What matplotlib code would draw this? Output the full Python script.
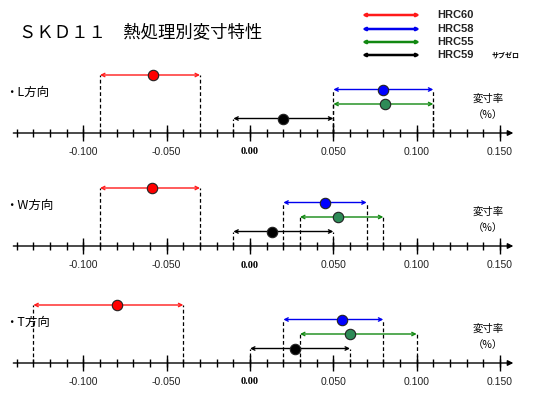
import numpy as np
import matplotlib
matplotlib.use("Agg")
import matplotlib.pyplot as plt

plt.rcParams['font.family'] = ['Noto Sans CJK JP', 'DejaVu Sans']

# data: (low, mean, high) per heat treatment, per direction
directions = ['・L方向', '・W方向', '・T方向']
series = ['HRC60', 'HRC58', 'HRC55', 'HRC59']
colors = ['#ff1a1a', '#0000ee', '#118811', '#000000']
dot_colors = ['#ff0000', '#0000ff', '#2e8b57', '#000000']
low = {
    'L': [-0.09, 0.05, 0.05, -0.01],
    'W': [-0.09, 0.02, 0.03, -0.01],
    'T': [-0.13, 0.02, 0.03, 0.00],
}
mean = {
    'L': [-0.058, 0.080, 0.081, 0.020],
    'W': [-0.059, 0.045, 0.053, 0.013],
    'T': [-0.080, 0.055, 0.060, 0.027],
}
high = {
    'L': [-0.03, 0.11, 0.11, 0.05],
    'W': [-0.03, 0.07, 0.08, 0.05],
    'T': [-0.04, 0.08, 0.10, 0.06],
}
tick_values = [-0.100, -0.050, 0.00, 0.050, 0.100, 0.150]
tick_labels = ['-0.100', '-0.050', '0.00', '0.050', '0.100', '0.150']
levels = [4, 3, 2, 1]   # stacking row for each series

W, H = 540, 400
fig = plt.figure(figsize=(5.4, 4.0), dpi=100)

unit = 14.5          # pixels per level
baselines = [133, 246, 363]
xmin, xmax = -0.15, (W - 250) / 1666.7 - 0.0

for key, label, y0 in zip(['L', 'W', 'T'], directions, baselines):
    ax = fig.add_axes([0, (H - (y0 + 30)) / H, 1, 110 / H])
    ax.set_xlim(xmin, xmax)
    ax.set_ylim(-30 / unit, 80 / unit)
    ax.axis('off')

    # axis line with arrow
    ax.annotate('', xy=(0.158, 0), xytext=(-0.142, 0),
                arrowprops=dict(arrowstyle='-|>', color='black', lw=1.0,
                                mutation_scale=8, shrinkA=0, shrinkB=0))
    minor = np.round(np.arange(-0.14, 0.151, 0.01), 3)
    ax.vlines(minor, -4 / unit, 4 / unit, color='black', lw=1.0)
    ax.vlines(tick_values, -8 / unit, 8 / unit, color='black', lw=1.0)
    for v, t in zip(tick_values, tick_labels):
        if t == '0.00':
            ax.text(v, -19 / unit, t, ha='center', va='center', fontsize=7.5,
                    family='Liberation Serif', fontweight='bold')
        else:
            ax.text(v, -19 / unit, t, ha='center', va='center', fontsize=7.5,
                    family='Liberation Sans', color='#222222')

    for i in range(len(series)):
        lv = levels[i]
        lo, mu, hi = low[key][i], mean[key][i], high[key][i]
        ax.vlines([lo, hi], 0, lv, color='black', lw=0.9,
                  linestyles=(0, (3, 2)))
        ax.annotate('', xy=(hi, lv), xytext=(lo, lv),
                    arrowprops=dict(arrowstyle='<->', color=colors[i], lw=1.0,
                                    mutation_scale=6, shrinkA=0, shrinkB=0))
        ax.plot(mu, lv, 'o', ms=7.5, color=dot_colors[i],
                mec='#222222', mew=0.8, zorder=5)

    fig.text(5 / W, 1 - (y0 - 41) / H, label, fontsize=9, va='center',
             ha='left')
    fig.text(488 / W, 1 - (y0 - 34) / H, '変寸率', fontsize=7.5,
             va='center', ha='center')
    fig.text(488 / W, 1 - (y0 - 18) / H, '（%）', fontsize=7.5,
             va='center', ha='center')

# title
fig.text(19 / W, 1 - 32 / H, 'ＳＫＤ１１　熱処理別変寸特性', fontsize=12.5,
         va='center', ha='left')

# legend
legend_y = [15, 29, 42, 55]
for i, s in enumerate(series):
    y = 1 - legend_y[i] / H
    fig.add_artist(matplotlib.patches.FancyArrowPatch(
        (362 / W, y), (420 / W, y), transform=fig.transFigure,
        arrowstyle='<|-|>', color=colors[i], lw=1.8, mutation_scale=4,
        shrinkA=0, shrinkB=0))
    fig.text(437 / W, y, s, fontsize=8, fontweight='bold',
             family='Liberation Sans', va='center', ha='left', color='#222222')
fig.text(492 / W, 1 - legend_y[3] / H, 'サブゼロ', fontsize=5,
         fontweight='bold', va='center', ha='left')

fig.savefig('out.png', dpi=100)
